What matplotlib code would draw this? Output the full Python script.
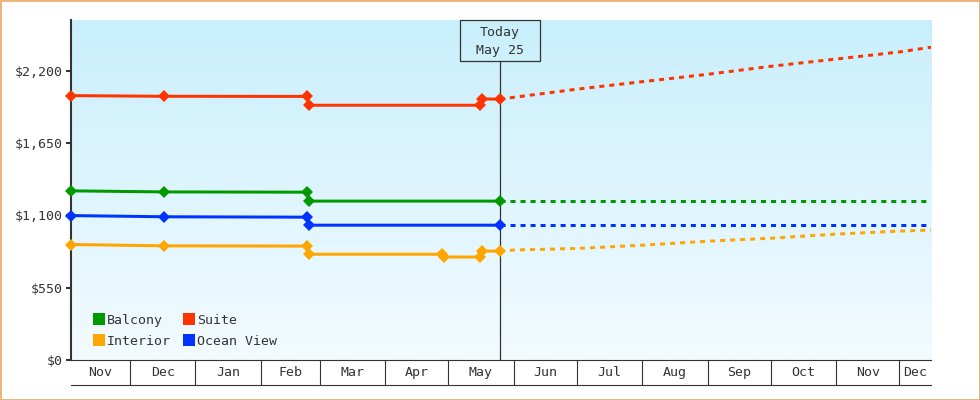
import numpy as np
import matplotlib
matplotlib.use("Agg")
import matplotlib.pyplot as plt
import matplotlib.dates as mdates
from matplotlib.lines import Line2D
from matplotlib.patches import Rectangle
from matplotlib.colors import LinearSegmentedColormap
from matplotlib.ticker import FuncFormatter

# price history (solid part, up to today)
balcony_dates = ["2024-11-03", "2024-12-17", "2025-02-23", "2025-02-24", "2025-05-25T12"]
balcony_price = [1286, 1278, 1276, 1208, 1208]

suite_dates = ["2024-11-03", "2024-12-17", "2025-02-23", "2025-02-24",
               "2025-05-16", "2025-05-17", "2025-05-25T12"]
suite_price = [2010, 2005, 2004, 1937, 1937, 1985, 1983]

ocean_dates = ["2024-11-03", "2024-12-17", "2025-02-23", "2025-02-24", "2025-05-25T12"]
ocean_price = [1098, 1089, 1086, 1025, 1025]

interior_dates = ["2024-11-03", "2024-12-17", "2025-02-23", "2025-02-24", "2025-04-28",
                  "2025-04-29", "2025-05-16", "2025-05-17", "2025-05-25T12"]
interior_price = [878, 868, 866, 804, 804, 783, 783, 828, 828]

# forecast (dotted part, after today)
forecast_dates = ["2025-05-25T12", "2025-06-01", "2025-07-01", "2025-08-01", "2025-09-01",
                  "2025-10-01", "2025-11-01", "2025-12-01", "2025-12-16"]
balcony_fc = [1208, 1208, 1208, 1208, 1208, 1208, 1208, 1208, 1208]
suite_fc = [1983, 1997, 2059, 2116, 2172, 2233, 2288, 2342, 2378]
ocean_fc = [1025, 1025, 1025, 1025, 1025, 1025, 1025, 1025, 1025]
interior_fc = [828, 836, 848, 873, 903, 926, 957, 980, 988]

month_labels = ["Nov", "Dec", "Jan", "Feb", "Mar", "Apr", "May",
                "Jun", "Jul", "Aug", "Sep", "Oct", "Nov", "Dec"]
y_ticks = [0, 550, 1100, 1650, 2200]

today = np.datetime64("2025-05-25T12")
today_label = "Today\nMay 25"
x_start = np.datetime64("2024-11-03")
x_end = np.datetime64("2025-12-16")

DARK = "#333333"
FONT = "DejaVu Sans Mono"
FS = 9.5

# legend goes column by column: Balcony/Interior, then Suite/Ocean View
series = [
    ("Balcony", "#009900", balcony_dates, balcony_price, balcony_fc),
    ("Interior", "#ffa500", interior_dates, interior_price, interior_fc),
    ("Suite", "#ff3300", suite_dates, suite_price, suite_fc),
    ("Ocean View", "#0033ff", ocean_dates, ocean_price, ocean_fc),
]

plt.rcParams["font.family"] = [FONT, "DejaVu Sans"]

fig = plt.figure(figsize=(9.8, 4.0), dpi=100)
ax = fig.add_axes([71 / 980, 40 / 400, 860 / 980, 340 / 400])

# gradient background
grad = np.linspace(0, 1, 256).reshape(-1, 1)
cmap = LinearSegmentedColormap.from_list("bg", ["#c9effc", "#f3fbff"])
ax.imshow(grad, cmap=cmap, extent=(0, 1, 0, 1), transform=ax.transAxes,
          aspect="auto", zorder=0, interpolation="bilinear")

lw = 2.16
for name, color, d, p, fc in series:
    ax.plot(np.array(d, dtype="datetime64[m]"), p, color=color, lw=lw,
            marker="D", ms=6.4, mew=0, clip_on=False, zorder=3)
    ax.plot(np.array(forecast_dates, dtype="datetime64[m]"), fc, color=color, lw=lw,
            dashes=(1.67, 1.67), dash_capstyle="butt", zorder=3)

ax.set_xlim(x_start, x_end)
ax.set_ylim(0, 2585)

# today marker
x0n, x1n = mdates.date2num(x_start), mdates.date2num(x_end)
tx = (mdates.date2num(today) - x0n) / (x1n - x0n)
box_h = 0.12
ax.axvline(today, ymin=0, ymax=1 - box_h, color=DARK, lw=0.9, zorder=2)
ax.add_patch(Rectangle((tx - 0.0463, 1 - box_h), 0.0926, box_h, transform=ax.transAxes,
                       fill=False, ec=DARK, lw=0.9, clip_on=False, zorder=4))
ax.text(tx, 1 - box_h / 2 - 0.004, today_label, transform=ax.transAxes, ha="center",
        va="center", fontsize=FS, color=DARK, linespacing=1.5, zorder=5)

# spines
for s in ["top", "right"]:
    ax.spines[s].set_visible(False)
ax.spines["left"].set_linewidth(1.5)
ax.spines["left"].set_color(DARK)
ax.spines["bottom"].set_linewidth(0.8)
ax.spines["bottom"].set_color(DARK)

# y axis
ax.set_yticks(y_ticks)
ax.yaxis.set_major_formatter(FuncFormatter(lambda v, _: f"${v:,.0f}"))
ax.tick_params(axis="y", length=3.6, width=1.5, color=DARK, pad=2.2,
               labelsize=FS, labelcolor=DARK)

# x axis: month cells
ax.xaxis.set_major_locator(mdates.MonthLocator())
ax.xaxis.set_major_formatter(FuncFormatter(lambda v, _: ""))
ax.tick_params(axis="x", which="major", length=18, width=0.8, color=DARK, direction="out")
bounds = np.arange(np.datetime64("2024-11"), np.datetime64("2026-02"),
                   dtype="datetime64[M]").astype("datetime64[D]")
bn = mdates.date2num(bounds)
mids = []
for a, b in zip(bn[:-1], bn[1:]):
    left, right = max(a, x0n), min(b, x1n)
    mids.append((left + right) / 2)
ax.set_xticks(mids, minor=True)
ax.set_xticklabels(month_labels, minor=True)
ax.tick_params(axis="x", which="minor", length=0, pad=4, labelsize=FS, labelcolor=DARK)
ax.plot([0, 1], [-25 / 340, -25 / 340], transform=ax.transAxes, color=DARK,
        lw=0.8, clip_on=False)

# legend
handles = [Line2D([0], [0], marker="s", ls="none", ms=8, mew=0, color=c)
           for _, c, _, _, _ in series]
labels = [n for n, _, _, _, _ in series]
ax.legend(handles, labels, ncol=2, loc="lower left", bbox_to_anchor=(0.026, 0.036),
          frameon=False, borderpad=0, borderaxespad=0, handlelength=0.8,
          handletextpad=0.2, columnspacing=1.0, labelspacing=0.6,
          prop={"family": FONT, "size": FS}, labelcolor=DARK)

# outer border
fig.patches.append(Rectangle((0.5 / 980, 0.5 / 400), 979 / 980, 399 / 400,
                             transform=fig.transFigure, fill=False,
                             ec="#e9a964", lw=1.2))

fig.savefig("out.png", dpi=100)
